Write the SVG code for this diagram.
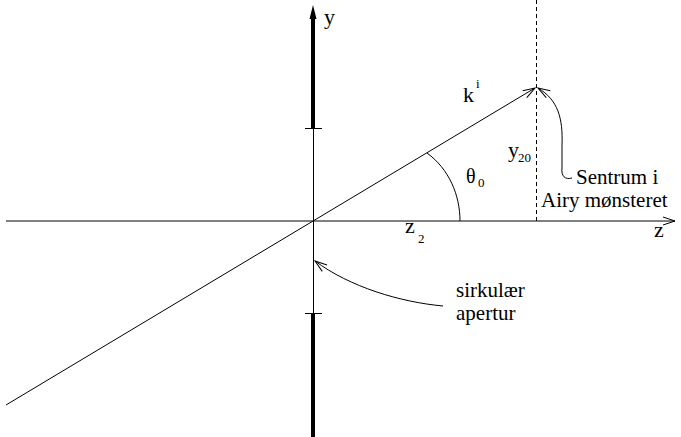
<svg xmlns="http://www.w3.org/2000/svg" width="681" height="437" viewBox="0 0 681 437">
<style>
text{font-family:'Liberation Serif','DejaVu Serif',serif;fill:#000}
.t{font-size:22px}
.n{font-size:21px}
.s{font-size:13px}
.ln{stroke:#000;stroke-width:1;fill:none}
</style>
<defs>
<marker id="v" markerUnits="userSpaceOnUse" markerWidth="16" markerHeight="12" refX="12" refY="4" orient="auto" overflow="visible">
<path d="M0,0 L12,4 L0,8" fill="none" stroke="#000" stroke-width="1"/>
</marker>
</defs>
<rect width="681" height="437" fill="#fff"/>
<g id="axes">
<line class="ln" x1="6" y1="221" x2="675" y2="221" marker-end="url(#v)"/>
<line x1="313" y1="16" x2="313" y2="128" stroke="#000" stroke-width="4"/>
<polygon points="313,5 309.5,19 316.5,19" fill="#000"/>
<line class="ln" x1="313.5" y1="128" x2="313.5" y2="313"/>
<line x1="313" y1="313" x2="313" y2="437" stroke="#000" stroke-width="4"/>
<line class="ln" x1="305" y1="128.5" x2="322" y2="128.5"/>
<line class="ln" x1="305" y1="313.5" x2="322" y2="313.5"/>
<line x1="536.5" y1="0" x2="536.5" y2="221" stroke="#000" stroke-width="1" stroke-dasharray="4,3"/>
</g>
<g id="connectors">
<line class="ln" x1="6" y1="405" x2="535" y2="88" marker-end="url(#v)"/>
<path class="ln" d="M460,221 C460,195 449,169 427,153"/>
<path class="ln" d="M572,178 C565,180 561,176 562,168 L562,145 C563,118 558,100 538,88" marker-end="url(#v)"/>
<path class="ln" d="M443,306 C400,302 350,287 315,261" marker-end="url(#v)"/>
</g>
<g id="labels">
<text class="t" x="324" y="24">y</text>
<text class="t" x="463" y="102">k</text><text class="s" x="476" y="88">i</text>
<text class="t" x="466" y="183" style="font-size:20px">θ</text><text class="s" x="478" y="187">0</text>
<text class="t" x="508" y="157">y</text><text class="s" x="518" y="162">20</text>
<text class="t" x="405" y="233">z</text><text class="s" x="418" y="243">2</text>
<text class="t" x="654" y="237">z</text>
</g>
<g id="note-airy">
<text class="n" x="576" y="184">Sentrum i</text>
<text class="n" x="541" y="207">Airy mønsteret</text>
</g>
<g id="note-apertur">
<text class="n" x="456" y="297">sirkulær</text>
<text class="n" x="456" y="320">apertur</text>
</g>
</svg>
